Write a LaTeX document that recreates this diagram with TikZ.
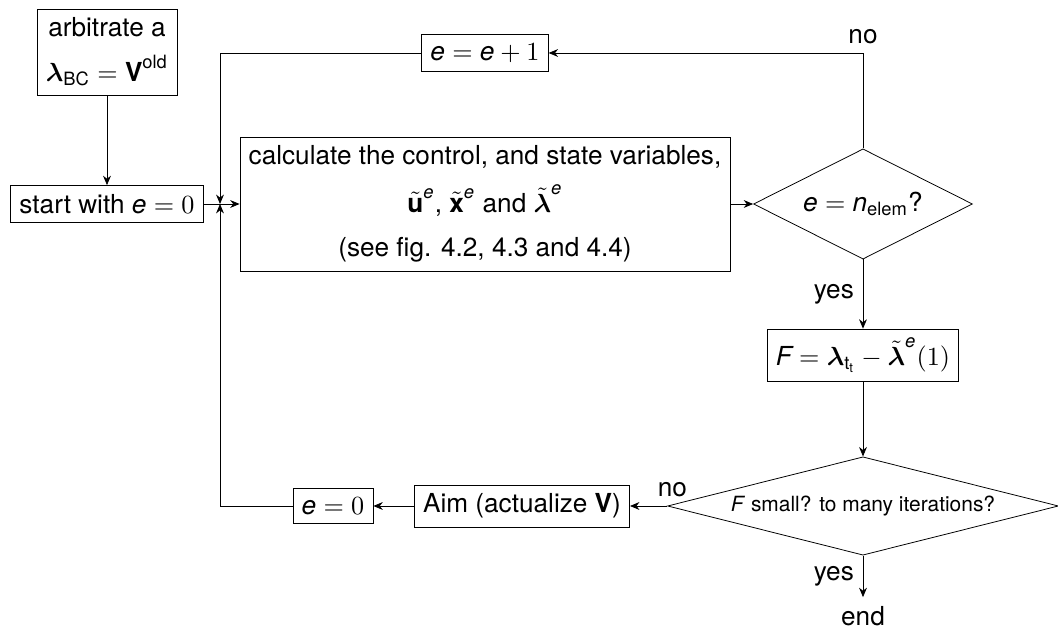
\documentclass[tikz,border=0pt]{standalone}
\usepackage{amsmath}
\usepackage{amssymb}
\usepackage[no-math]{fontspec}
\setmainfont{TeX Gyre Heros}
\usetikzlibrary{shapes.geometric,arrows.meta}

\newcommand{\ve}{\textit{e}}

\begin{document}
\begin{tikzpicture}[x=0.01343cm,y=-0.01343cm,line width=0.3pt,>={Stealth[length=3.6pt,width=3pt]}]
			\tikzstyle{box}=[draw, align=center]
			\tikzstyle{decide}=[draw, diamond, inner sep=0pt]
			\tikzstyle{flow}=[->]

			\useasboundingbox (0,0) rectangle (1058,632);

			% blocks
			\node[box] (arb) at (107,52) {arbitrate a\\[5pt]$\boldsymbol{\lambda}_{\text{BC}} = \textbf{V}^{\text{old}}$};
			\node[box] (start) at (107,204) {start with $\ve = 0$};
			\node[box] (calc) at (485,204) {calculate the control, and state variables,\\[5pt]
				$\tilde{\textbf{u}}^{\ve}$, $\tilde{\textbf{x}}^{\ve}$ and $\tilde{\boldsymbol{\lambda}}^{\ve}$\\[5pt]
				(see fig. 4.2, 4.3 and 4.4)};
			\node[box] (inc) at (485,53) {$\ve = \ve + 1$};
			\node[decide, aspect=2, minimum width=2.94cm, minimum height=1.48cm] (check) at (863,204) {$\ve = \textit{n}_{\text{elem}}$?};
			\node[box] (res) at (863,355) {$\textit{F} = \boldsymbol{\lambda}_{\text{t}_{\text{t}}} - \tilde{\boldsymbol{\lambda}}^{\ve}(1)$};
			\node[decide, aspect=4, minimum width=5.25cm, minimum height=1.32cm, font=\footnotesize] (conv) at (863,506) {\textit{F} small? to many iterations?};
			\node[box] (aim) at (522,506) {Aim (actualize \textbf{V})};
			\node[box] (reset) at (333,506) {$\ve = 0$};
			\node (end) at (863,616) {end};
			\coordinate (join) at (220,204);

			% connectors
			\draw[flow] (arb) -- (start);
			\draw[flow] (start) -- (calc);
			\draw[flow] (calc) -- (check);
			\draw[flow] (check.north) |- node[above, pos=0.5]{no} (inc.east);
			\draw[flow] (inc.west) -| (join);
			\draw[flow] (check.south) -- node[left, midway]{yes} (res.north);
			\draw[flow] (res.south) -- (conv.north);
			\draw[flow] (conv.west) -- node[above, pos=0, xshift=2pt]{no} (aim.east);
			\draw[flow] (aim.west) -- (reset.east);
			\draw[flow] (reset.west) -| (join);
			\draw[flow] (conv.south) -- node[left, midway]{yes} (end.north);
\end{tikzpicture}
\end{document}
